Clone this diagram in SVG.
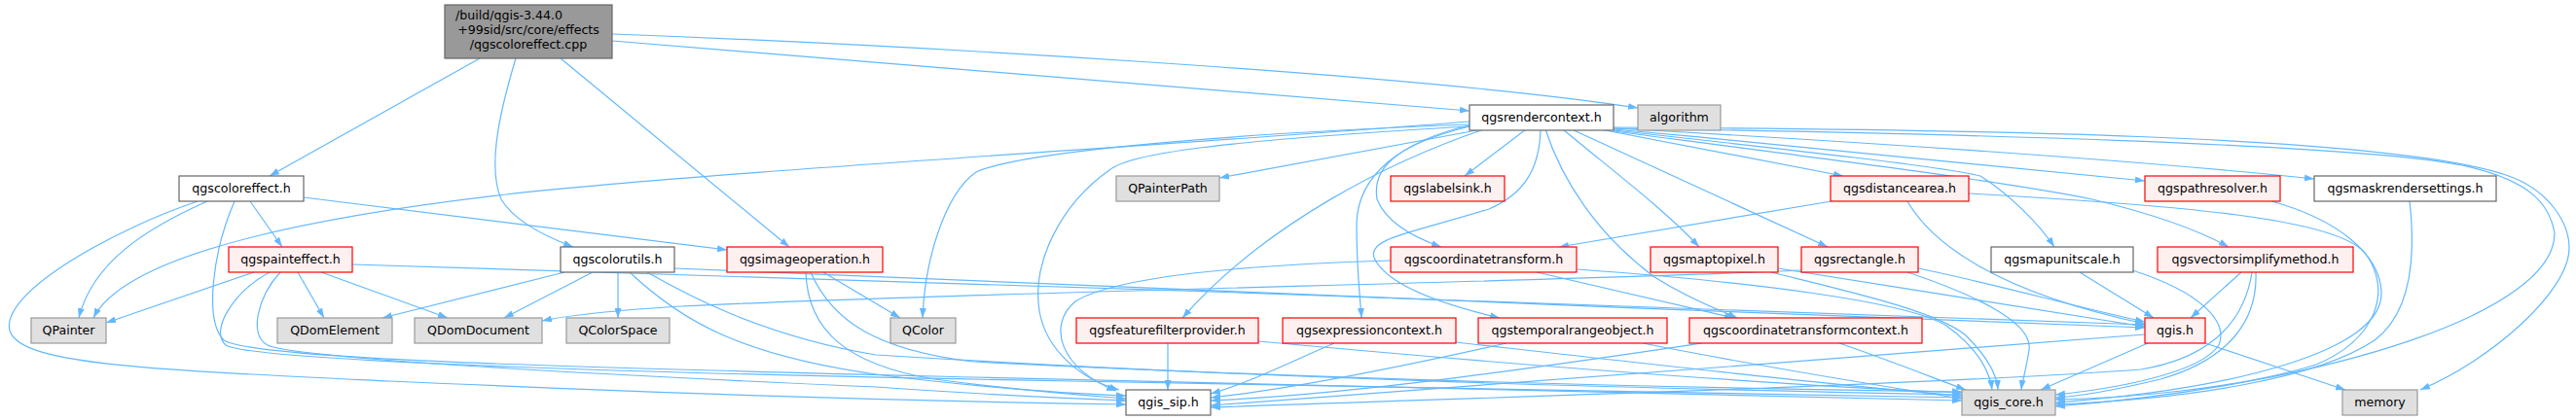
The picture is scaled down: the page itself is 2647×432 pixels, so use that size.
<svg xmlns="http://www.w3.org/2000/svg" width="2647" height="432" viewBox="0 0 2647 432">
<style>
text{font-family:"DejaVu Sans","Liberation Sans",sans-serif;font-size:12.6px;fill:#000;text-anchor:middle}
.e path{fill:none;stroke:#63b8ff;stroke-width:1.2;marker-end:url(#ah)}
.w{fill:#fff;stroke:#666;stroke-width:1.2}
.g{fill:#e0e0e0;stroke:#999;stroke-width:1.2}
.r{fill:#fff0f0;stroke:#f00;stroke-width:1.2}
.root{fill:#999;stroke:#666;stroke-width:1.2}
</style>
<defs>
<marker id="ah" viewBox="0 0 10 7" refX="10" refY="3.5" markerWidth="10" markerHeight="7" markerUnits="userSpaceOnUse" orient="auto">
<path d="M0,0 L10,3.5 L0,7 z" fill="#63b8ff"/>
</marker>
</defs>
<rect width="2647" height="432" fill="#fff"/>
<g class="e" id="edges">
<path d="M493,60 L277,181"/>
<path d="M530,60 C515,110 500,170 515,205 C530,230 565,245 589,254"/>
<path d="M576,60 L811,254"/>
<path d="M629,42 L1510,114"/>
<path d="M629,35 C900,45 1450,75 1683,111"/>
<path d="M213,207 C150,235 95,270 81,327"/>
<path d="M257,207 L290,254"/>
<path d="M312,203 L747,257"/>
<path d="M203,207 C120,235 0,300 10,340 C20,375 150,380 400,392 C700,405 900,412 1157,416"/>
<path d="M241,207 C218,260 210,330 230,350 C260,370 600,378 1000,388 C1400,396 1800,405 2016,412"/>
<path d="M261,280 L109,332"/>
<path d="M306,280 L333,327"/>
<path d="M330,280 L460,327"/>
<path d="M288,280 C265,305 255,345 275,355 C300,368 600,385 900,398 C1000,405 1100,410 1157,412"/>
<path d="M277,280 C240,300 215,340 232,355 C260,372 700,385 1100,392 C1500,398 1850,405 2016,409"/>
<path d="M362,272 C900,285 1700,318 2204,334"/>
<path d="M580,280 L393,327"/>
<path d="M609,280 L518,327"/>
<path d="M635,280 L635,327"/>
<path d="M647,280 C700,330 760,365 900,385 C1000,398 1100,405 1157,407"/>
<path d="M665,280 C700,300 780,345 900,365 C1300,390 1700,400 2016,406"/>
<path d="M693,276 C1100,290 1700,320 2204,337"/>
<path d="M846,280 L925,327"/>
<path d="M828,280 C830,340 870,375 960,390 C1050,402 1120,407 1157,410"/>
<path d="M833,280 C855,330 900,360 1000,372 C1400,392 1800,400 2016,403"/>
<path d="M1510,125 C1200,150 750,175 520,200 C330,222 130,260 96,327"/>
<path d="M1523,133 L1253,183"/>
<path d="M1510,128 C1200,140 1040,160 1003,177 C970,200 950,270 948,327"/>
<path d="M1510,130 C1250,145 1160,158 1140,175 C1090,210 1060,270 1068,320 C1075,360 1110,390 1150,401"/>
<path d="M1525,133 C1430,165 1300,230 1215,327"/>
<path d="M1568,133 L1505,181"/>
<path d="M1510,129 C1440,145 1395,180 1394,230 C1394,280 1398,310 1399,327"/>
<path d="M1510,130 C1430,150 1410,175 1415,205 C1425,230 1455,245 1481,254"/>
<path d="M1583,133 C1582,175 1565,200 1530,215 C1450,240 1405,245 1412,265 C1425,295 1490,315 1541,327"/>
<path d="M1588,133 C1605,185 1640,240 1700,285 C1740,310 1770,320 1785,327"/>
<path d="M1606,133 C1650,170 1710,215 1746,254"/>
<path d="M1615,133 L1878,254"/>
<path d="M1644,133 L1894,181"/>
<path d="M1658,133 C1850,150 2050,170 2204,186"/>
<path d="M1658,132 C1900,145 2200,165 2378,184"/>
<path d="M1658,134 C1850,155 2000,172 2035,181 C2065,200 2095,230 2111,254"/>
<path d="M1658,135 C1850,160 2050,185 2150,205 C2220,222 2265,240 2290,254"/>
<path d="M1658,131 C2000,133 2450,138 2575,180 C2620,195 2640,230 2640,255 C2640,300 2560,370 2487,401"/>
<path d="M1658,132 C2000,137 2420,148 2530,170 C2600,185 2620,210 2625,240 C2625,320 2400,395 2112,418"/>
<path d="M1882,207 L1602,254"/>
<path d="M1960,207 C1985,250 2050,300 2204,333"/>
<path d="M2023,199 C2250,212 2400,225 2430,260 C2460,300 2440,350 2380,375 C2300,400 2180,410 2112,411"/>
<path d="M1579,280 L1782,327"/>
<path d="M1429,268 C1300,272 1150,282 1105,310 C1075,335 1090,380 1147,402"/>
<path d="M1621,277 C1800,290 1960,310 2000,335 C2035,360 2045,385 2047,401"/>
<path d="M1827,276 C1950,295 2100,320 2204,336"/>
<path d="M1820,280 C1900,300 1990,320 2020,345 C2040,365 2052,385 2053,401"/>
<path d="M1851,278 C1600,290 1000,300 700,315 C620,320 580,325 557,330"/>
<path d="M1971,276 C2050,292 2130,315 2204,331"/>
<path d="M1960,280 C2020,300 2090,330 2085,360 C2082,380 2078,392 2077,401"/>
<path d="M2137,280 L2213,327"/>
<path d="M2191,278 C2260,300 2290,330 2280,355 C2260,385 2170,400 2112,406"/>
<path d="M2303,280 L2251,327"/>
<path d="M2318,280 C2320,330 2290,370 2220,390 C2170,402 2130,408 2112,409"/>
<path d="M2314,280 C2305,340 2260,370 2200,380 C2000,395 1500,410 1244,419"/>
<path d="M2334,207 C2400,225 2445,260 2447,300 C2450,360 2300,400 2112,414"/>
<path d="M2476,207 C2482,260 2480,320 2440,350 C2380,390 2250,410 2112,416"/>
<path d="M2207,353 L2097,401"/>
<path d="M2266,353 L2410,401"/>
<path d="M2204,344 C1900,368 1500,398 1244,417"/>
<path d="M1200,353 L1200,401"/>
<path d="M1293,351 C1500,370 1800,395 2016,404"/>
<path d="M1371,353 C1320,375 1280,395 1244,405"/>
<path d="M1496,352 C1700,375 1900,398 2016,407"/>
<path d="M1548,353 C1450,375 1330,400 1244,409"/>
<path d="M1688,353 C1800,375 1920,395 2016,410"/>
<path d="M1749,353 C1600,375 1400,405 1244,412"/>
<path d="M1890,353 C1940,370 1990,390 2020,401"/>
</g>
<g id="n_root"><rect class="root" x="457" y="5" width="172" height="55"/><text x="468" y="20" style="text-anchor:start">/build/qgis-3.44.0</text><text x="543" y="35">+99sid/src/core/effects</text><text x="543" y="50">/qgscoloreffect.cpp</text></g>
<g id="n_coloreffect"><rect class="w" x="184" y="181" width="128" height="26"/><text x="248" y="198">qgscoloreffect.h</text></g>
<g id="n_painteffect"><rect class="r" x="235" y="254" width="127" height="26"/><text x="298.5" y="271">qgspainteffect.h</text></g>
<g id="n_colorutils"><rect class="w" x="576" y="254" width="117" height="26"/><text x="634.5" y="271">qgscolorutils.h</text></g>
<g id="n_imageoperation"><rect class="r" x="747" y="254" width="160" height="26"/><text x="827" y="271">qgsimageoperation.h</text></g>
<g id="n_QPainter"><rect class="g" x="32" y="327" width="77" height="26"/><text x="70.5" y="344">QPainter</text></g>
<g id="n_QDomElement"><rect class="g" x="285" y="327" width="118" height="26"/><text x="344" y="344">QDomElement</text></g>
<g id="n_QDomDocument"><rect class="g" x="426" y="327" width="131" height="26"/><text x="491.5" y="344">QDomDocument</text></g>
<g id="n_QColorSpace"><rect class="g" x="582" y="327" width="106" height="26"/><text x="635" y="344">QColorSpace</text></g>
<g id="n_QColor"><rect class="g" x="915" y="327" width="67" height="26"/><text x="948.5" y="344">QColor</text></g>
<g id="n_featurefilterprovider"><rect class="r" x="1106" y="327" width="187" height="26"/><text x="1199.5" y="344">qgsfeaturefilterprovider.h</text></g>
<g id="n_qgis_sip"><rect class="w" x="1157" y="401" width="87" height="26"/><text x="1200.5" y="418">qgis_sip.h</text></g>
<g id="n_QPainterPath"><rect class="g" x="1147" y="181" width="106" height="26"/><text x="1200" y="198">QPainterPath</text></g>
<g id="n_rendercontext"><rect class="w" x="1510" y="108" width="148" height="26"/><text x="1584" y="125">qgsrendercontext.h</text></g>
<g id="n_algorithm"><rect class="g" x="1683" y="108" width="85" height="26"/><text x="1725.5" y="125">algorithm</text></g>
<g id="n_labelsink"><rect class="r" x="1429" y="181" width="117" height="26"/><text x="1487.5" y="198">qgslabelsink.h</text></g>
<g id="n_distancearea"><rect class="r" x="1881" y="181" width="142" height="26"/><text x="1952" y="198">qgsdistancearea.h</text></g>
<g id="n_coordinatetransform"><rect class="r" x="1429" y="254" width="191" height="26"/><text x="1524.5" y="271">qgscoordinatetransform.h</text></g>
<g id="n_maptopixel"><rect class="r" x="1696" y="254" width="131" height="26"/><text x="1761.5" y="271">qgsmaptopixel.h</text></g>
<g id="n_rectangle"><rect class="r" x="1851" y="254" width="120" height="26"/><text x="1911" y="271">qgsrectangle.h</text></g>
<g id="n_expressioncontext"><rect class="r" x="1318" y="327" width="178" height="26"/><text x="1407" y="344">qgsexpressioncontext.h</text></g>
<g id="n_temporalrangeobject"><rect class="r" x="1519" y="327" width="194" height="26"/><text x="1616" y="344">qgstemporalrangeobject.h</text></g>
<g id="n_coordinatetransformcontext"><rect class="r" x="1736" y="327" width="239" height="26"/><text x="1855.5" y="344">qgscoordinatetransformcontext.h</text></g>
<g id="n_pathresolver"><rect class="r" x="2204" y="181" width="139" height="26"/><text x="2273.5" y="198">qgspathresolver.h</text></g>
<g id="n_maskrendersettings"><rect class="w" x="2378" y="181" width="187" height="26"/><text x="2471.5" y="198">qgsmaskrendersettings.h</text></g>
<g id="n_mapunitscale"><rect class="w" x="2046" y="254" width="146" height="26"/><text x="2119" y="271">qgsmapunitscale.h</text></g>
<g id="n_vectorsimplifymethod"><rect class="r" x="2217" y="254" width="201" height="26"/><text x="2317.5" y="271">qgsvectorsimplifymethod.h</text></g>
<g id="n_qgis"><rect class="r" x="2204" y="327" width="62" height="26"/><text x="2235" y="344">qgis.h</text></g>
<g id="n_qgis_core"><rect class="g" x="2016" y="401" width="96" height="26"/><text x="2064" y="418">qgis_core.h</text></g>
<g id="n_memory"><rect class="g" x="2407" y="401" width="77" height="26"/><text x="2445.5" y="418">memory</text></g>
</svg>
